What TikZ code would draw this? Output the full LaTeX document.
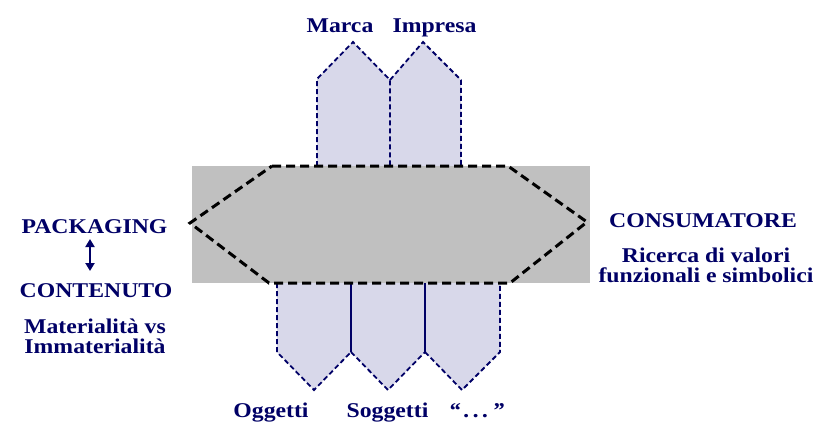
\documentclass[tikz,border=0pt]{standalone}
\usepackage{fontspec}
\setmainfont{Liberation Serif}[FakeStretch=1.13]
\usetikzlibrary{arrows.meta}
\definecolor{navy}{RGB}{0,0,102}
\definecolor{lav}{RGB}{216,216,234}
\definecolor{grayband}{RGB}{192,192,192}
\begin{document}
\begin{tikzpicture}[x=1pt,y=-1pt,
  lbl/.style={text=navy,font=\fontsize{21}{20}\selectfont\bfseries,inner sep=0pt,anchor=base,align=center},
  tabfill/.style={fill=lav},
  tabline/.style={draw=navy,line width=1.8pt,dash pattern=on 5pt off 3pt},
  hexline/.style={draw=black,line width=3pt,dash pattern=on 9pt off 5pt}]
\useasboundingbox[fill=white] (0,0) rectangle (821,424);
% top tabs
\path[tabfill] (317,166) -- (317,79) -- (353,42) -- (390,80) -- (461,80) -- (461,166) -- cycle;
\path[tabfill] (390,80) -- (423,42) -- (461,80) -- cycle;
\draw[tabline] (317,166) -- (317,79) -- (353,42) -- (390,80) -- (390,166);
\draw[tabline] (390,80) -- (423,42) -- (461,80) -- (461,166);
% bottom tabs
\path[tabfill] (277,283) -- (277,352) -- (314,390) -- (351,352) -- (388,390) -- (425,352) -- (462,390) -- (500,352) -- (500,283) -- cycle;
\draw[tabline] (277,283) -- (277,352) -- (314,390) -- (351,352);
\draw[navy,line width=1.8pt] (351,283) -- (351,352);
\draw[tabline] (351,352) -- (388,390) -- (425,352);
\draw[navy,line width=1.8pt] (425,283) -- (425,352);
\draw[tabline] (425,352) -- (462,390) -- (500,352) -- (500,283);
% gray band and hexagon
\fill[grayband] (192,166) rectangle (590,283);
\draw[hexline] (272,166) -- (508,166) -- (587,222) -- (510,283) -- (269,283) -- (190,223) -- cycle;
% labels
\node[lbl] (marca) at (340,32) {Marca};
\node[lbl] (impresa) at (434.5,32) {Impresa};
\node[lbl] (oggetti) at (271,417) {Oggetti};
\node[lbl] (soggetti) at (387.5,417) {Soggetti};
\node[lbl] (dots) at (476.5,417) {\itshape “\,.\,.\,.\,”};
\node[lbl] (pack) at (94.5,233) {PACKAGING};
\node[lbl] (cont) at (96,297) {CONTENUTO};
\node[lbl] (mat) at (95,353) {Materialità vs\\Immaterialità};
\node[lbl] (cons) at (703,227) {CONSUMATORE};
\node[lbl] (ric) at (706,282) {Ricerca di valori\\funzionali e simbolici};
\coordinate (atop) at (90,239);
\coordinate (abot) at (90,271);
\draw[navy,line width=2.6pt,{Triangle[width=9pt,length=8pt]}-{Triangle[width=9pt,length=8pt]}] (atop) -- (abot);
\end{tikzpicture}
\end{document}
